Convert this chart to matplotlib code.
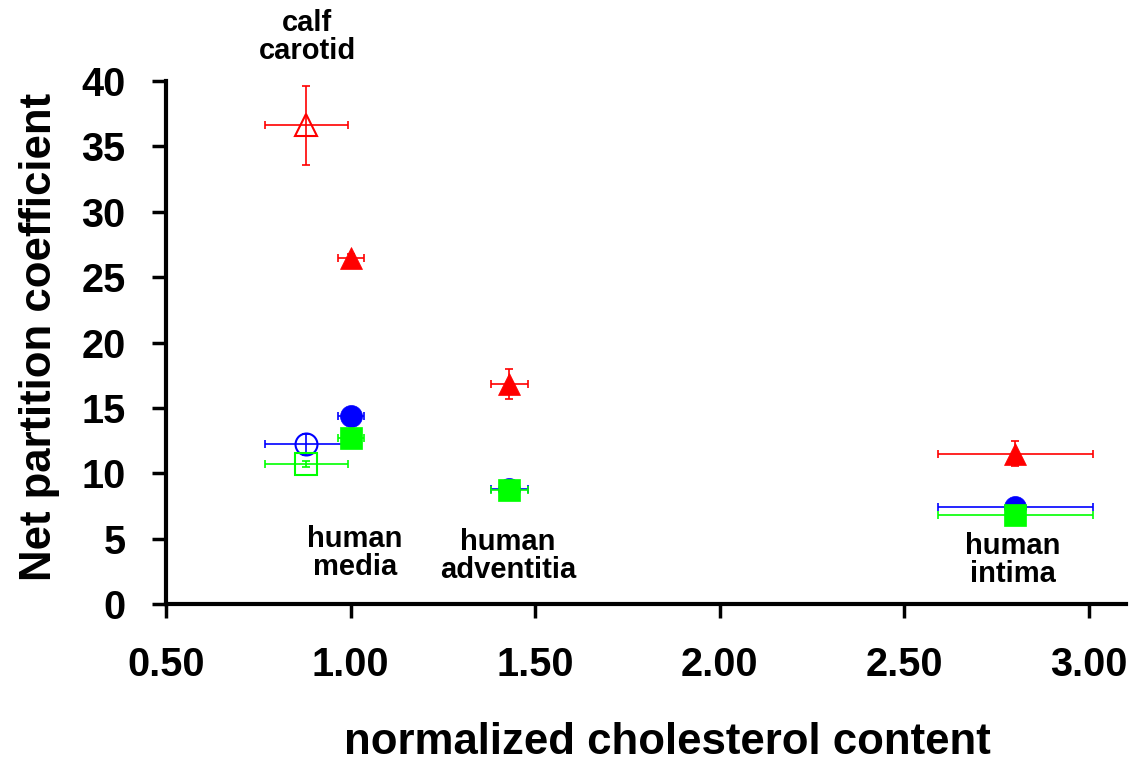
import matplotlib
matplotlib.use("Agg")
import matplotlib.pyplot as plt

plt.rcParams['font.family'] = ['Liberation Sans', 'DejaVu Sans']
plt.rcParams['font.weight'] = 'bold'

# tissues: calf carotid (open markers), human media, human adventitia, human intima
chol_x = [0.88, 1.00, 1.43, 2.80]
chol_xerr = [0.112, 0.035, 0.05, 0.21]
open_flags = [True, False, False, False]

tri_y = [36.6, 26.5, 16.8, 11.5]
tri_yerr = [3.0, 0.3, 1.15, 0.95]
circ_y = [12.2, 14.4, 8.8, 7.45]
circ_yerr = [0.8, 0.3, 0.2, 0.2]
sq_y = [10.7, 12.7, 8.7, 6.8]
sq_yerr = [0.2, 0.3, 0.2, 0.2]

labels = ["calf\ncarotid", "human\nmedia", "human\nadventitia", "human\nintima"]
label_x = [0.882, 1.012, 1.426, 2.793]
label_y = [43.4, 3.9, 3.7, 3.37]

xticks = [0.5, 1.0, 1.5, 2.0, 2.5, 3.0]
xticklabels = ["0.50", "1.00", "1.50", "2.00", "2.50", "3.00"]
yticks = [0, 5, 10, 15, 20, 25, 30, 35, 40]

W, H = 1129, 763
fig = plt.figure(figsize=(W / 100, H / 100), dpi=100)
ax = fig.add_axes([166 / W, 1 - 604 / H, (1126 - 166) / W, (604 - 81) / H])

series = [
    (tri_y, tri_yerr, '^', '#ff0000', 16.5),
    (circ_y, circ_yerr, 'o', '#0000ff', 15.8),
    (sq_y, sq_yerr, 's', '#00ff00', 16.5),
]
for ys, yerrs, mk, col, ms in series:
    for x, xe, y, ye, op in zip(chol_x, chol_xerr, ys, yerrs, open_flags):
        ax.errorbar([x], [y], xerr=[xe], yerr=[ye] if ye > 0 else None,
                    fmt='none', ecolor=col, elinewidth=1.2, capsize=3.0,
                    capthick=1.2, zorder=2)
        ax.plot([x], [y], marker=mk, linestyle='none', markersize=ms,
                markerfacecolor='none' if op else col,
                markeredgecolor=col, markeredgewidth=1.5 if op else 0.5,
                zorder=3)

for t, lx, ly in zip(labels, label_x, label_y):
    ax.text(lx, ly, t, ha='center', va='center', fontsize=21,
            fontweight='bold', linespacing=1.0, clip_on=False)

ax.set_xlim(0.5, 3.1)
ax.set_ylim(0, 40)
ax.set_xticks(xticks)
ax.set_xticklabels(xticklabels)
ax.set_yticks(yticks)
for s in ['top', 'right']:
    ax.spines[s].set_visible(False)
for s in ['left', 'bottom']:
    ax.spines[s].set_linewidth(3)
ax.tick_params(axis='both', direction='out', length=10, width=2.5,
               labelsize=28.5)
ax.tick_params(axis='y', pad=19)
ax.tick_params(axis='x', pad=20)
for lab in ax.get_xticklabels() + ax.get_yticklabels():
    lab.set_fontweight('bold')

fig.text(667 / W, 1 - 742 / H, "normalized cholesterol content",
         ha='center', va='center', fontsize=31.5, fontweight='bold')
fig.text(40 / W, 1 - 337 / H, "Net partition coefficient",
         ha='center', va='center', rotation=90, fontsize=31.5,
         fontweight='bold')

fig.savefig("out.png", dpi=100)
